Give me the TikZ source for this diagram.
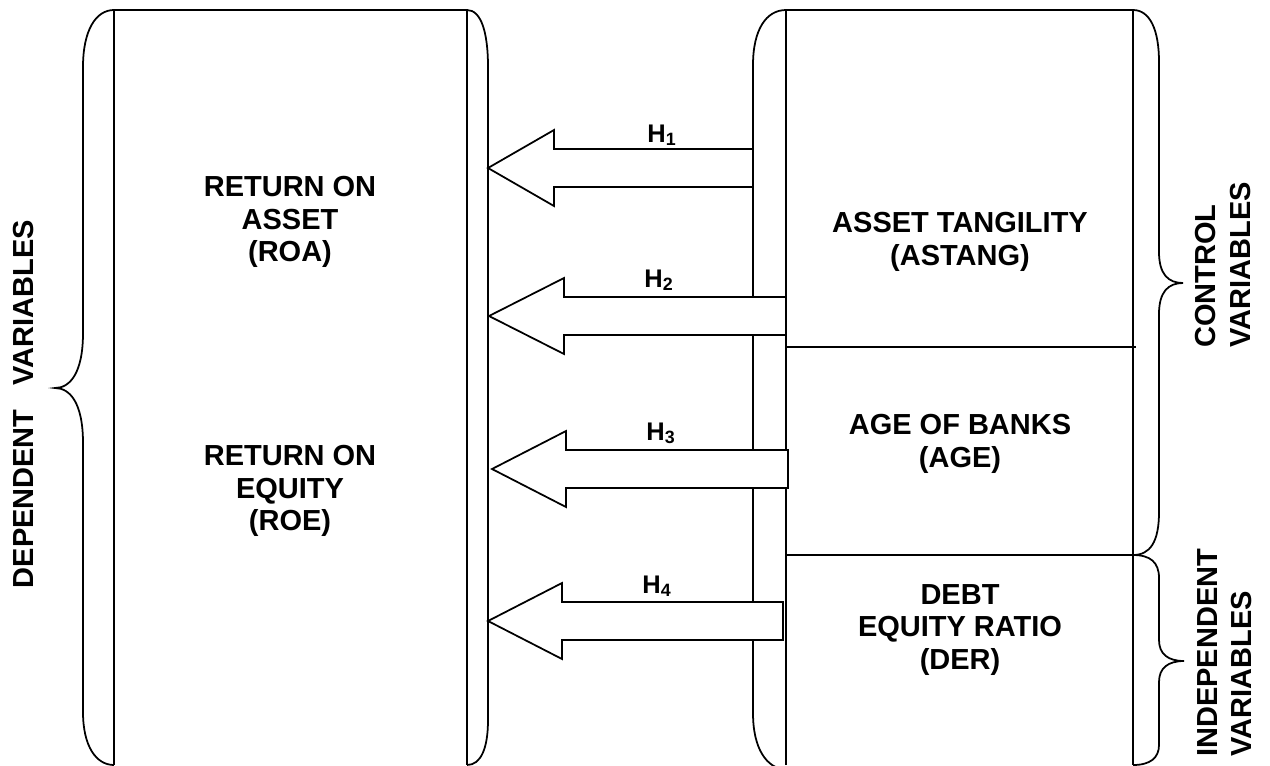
\documentclass[tikz,border=0pt]{standalone}
\usepackage{fontspec}
\setmainfont{Liberation Sans}
\usepackage{xcolor}
\usepackage{tikz}
\usetikzlibrary{calc}
\definecolor{blackline}{HTML}{000000}
\tikzset{every node/.append style={font=\bfseries}}

% block arrow: tip, tail, head length
\newcommand{\hyparrow}[3]{%
  \draw[blockarr] (#1) -- ++(#3,-38) -- ++(0,19) -- ($(#2)+(0,-19)$)
    -- ($(#2)+(0,19)$) -- ($(#1)+(#3,19)$) -- ++(0,19) -- cycle;}

\begin{document}
\begin{tikzpicture}[x=0.02cm,y=-0.02cm,
    frame/.style={blackline,line width=1pt},
    blockarr/.style={draw=blackline,fill=white,line width=1pt,line join=miter},
    varbox/.style={align=center,inner sep=0pt,
      font=\bfseries\fontsize{16.5}{18.7}\selectfont},
    sidelbl/.style={rotate=90,align=left,inner sep=0pt,anchor=west,
      font=\bfseries\fontsize{16.5}{19.5}\selectfont},
    hlbl/.style={anchor=base,inner sep=0pt,
      font=\bfseries\fontsize{14.5}{16}\selectfont}]
  % one unit = one pixel of the 1270x765 frame, y runs downwards
  \useasboundingbox (0,0) rectangle (1270,765);

  % dependent side
  \draw[frame] (114,765) -- (114,10) -- (467,10) -- (467,765);
  \draw[frame] (114,10) .. controls (96,10) and (83,30) .. (83,67)
    -- (83,333) .. controls (83,373) and (70,388) .. (55,388)
    .. controls (70,388) and (83,403) .. (83,443)
    -- (83,712) .. controls (83,746) and (96,765) .. (114,765);
  \draw[frame] (467,10) .. controls (481,10) and (488,32) .. (488,67)
    -- (488,720) .. controls (488,748) and (481,765) .. (467,765);

  % independent and control side
  \draw[frame] (786,765) -- (786,10) -- (1133,10) -- (1133,765);
  \draw[frame] (786,347) -- (1136,347);
  \draw[frame] (786,555) -- (1133,555);
  \draw[frame] (786,10) .. controls (766,10) and (753,30) .. (753,65)
    -- (753,713) .. controls (753,748) and (766,768) .. (786,770);
  \draw[frame] (1133,10) .. controls (1150,10) and (1159,30) .. (1159,62)
    -- (1159,252) .. controls (1159,274) and (1168,283) .. (1183,283)
    .. controls (1168,283) and (1159,292) .. (1159,314)
    -- (1159,512) .. controls (1159,542) and (1150,555) .. (1133,555);
  \draw[frame] (1133,555) .. controls (1150,555) and (1159,562) .. (1159,578)
    -- (1159,640) .. controls (1159,654) and (1168,661) .. (1184,661)
    .. controls (1168,661) and (1159,668) .. (1159,682)
    -- (1159,745) .. controls (1159,758) and (1150,765) .. (1133,765);

  \node[varbox] (roa) at (290,222) {RETURN ON\\ASSET\\(ROA)};
  \node[varbox] (roe) at (290,491) {RETURN ON\\EQUITY\\(ROE)};
  \node[varbox] (astang) at (960,242) {ASSET TANGILITY\\(ASTANG)};
  \node[varbox] (age) at (960,444) {AGE OF BANKS\\(AGE)};
  \node[varbox] (der) at (960,630) {DEBT\\EQUITY RATIO\\(DER)};

  \node[sidelbl,anchor=center,align=center] (dep) at (24,404)
    {DEPENDENT\ \ \ VARIABLES};
  \node[sidelbl] (ctrl) at (1223,348) {CONTROL\\VARIABLES};
  \node[sidelbl] (indep) at (1225,757) {INDEPENDENT\\VARIABLES};

  \coordinate (T1) at (488,168);
  \coordinate (S1) at (753,168);
  \coordinate (T2) at (489,316);
  \coordinate (S2) at (786,316);
  \coordinate (T3) at (492,469);
  \coordinate (S3) at (788,469);
  \coordinate (T4) at (488,621);
  \coordinate (S4) at (783,621);
  \hyparrow{T1}{S1}{66}
  \hyparrow{T2}{S2}{75}
  \hyparrow{T3}{S3}{74}
  \hyparrow{T4}{S4}{74}

  \node[hlbl] (h1) at (662,142) {H\textsubscript{1}};
  \node[hlbl] (h2) at (659,287) {H\textsubscript{2}};
  \node[hlbl] (h3) at (661,440) {H\textsubscript{3}};
  \node[hlbl] (h4) at (657,593) {H\textsubscript{4}};
\end{tikzpicture}
\end{document}
